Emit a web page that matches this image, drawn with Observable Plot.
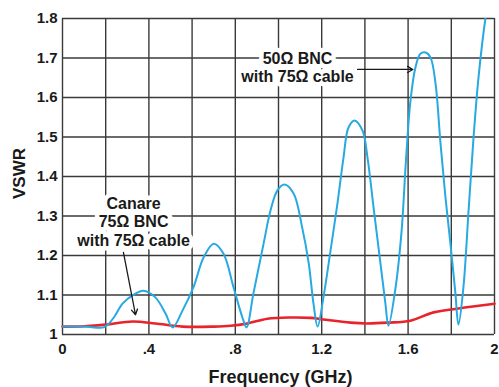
<!DOCTYPE html>
<html>
<head>
<meta charset="utf-8">
<script src="https://cdn.jsdelivr.net/npm/d3@7"></script>
<script src="https://cdn.jsdelivr.net/npm/@observablehq/plot@0.6"></script>
<style>
  html, body { margin: 0; padding: 0; background: #fff; }
</style>
</head>
<body>
<div id="chart"></div>
<script>
// ---- data ----
const bncFreq = [0, 0.1, 0.19, 0.21, 0.24, 0.278, 0.324, 0.375, 0.43, 0.477, 0.51, 0.556, 0.606, 0.653, 0.70, 0.745, 0.792, 0.833, 0.852, 0.884, 0.931, 0.963, 0.995, 1.028, 1.07, 1.11, 1.14, 1.162, 1.181, 1.208, 1.241, 1.273, 1.301, 1.324, 1.352, 1.389, 1.412, 1.44, 1.472, 1.495, 1.509, 1.542, 1.57, 1.59, 1.611, 1.634, 1.657, 1.681, 1.704, 1.727, 1.75, 1.773, 1.796, 1.819, 1.833, 1.856, 1.88, 1.903, 1.926, 1.958, 1.98];
const bncVswr = [1.02, 1.02, 1.018, 1.025, 1.045, 1.078, 1.099, 1.111, 1.094, 1.053, 1.018, 1.061, 1.119, 1.195, 1.23, 1.205, 1.119, 1.043, 1.018, 1.104, 1.23, 1.314, 1.365, 1.38, 1.357, 1.27, 1.18, 1.078, 1.02, 1.094, 1.213, 1.332, 1.448, 1.524, 1.542, 1.516, 1.448, 1.322, 1.18, 1.078, 1.022, 1.119, 1.263, 1.44, 1.592, 1.676, 1.711, 1.714, 1.701, 1.635, 1.484, 1.347, 1.23, 1.104, 1.025, 1.119, 1.314, 1.499, 1.651, 1.8, 1.87];

const canareFreq = [0, 0.1, 0.2, 0.324, 0.43, 0.556, 0.7, 0.778, 0.856, 0.949, 1.056, 1.15, 1.208, 1.333, 1.41, 1.505, 1.611, 1.718, 1.833, 2.0];
const canareVswr = [1.02, 1.021, 1.025, 1.033, 1.028, 1.02, 1.02, 1.022, 1.028, 1.04, 1.043, 1.042, 1.038, 1.03, 1.028, 1.03, 1.035, 1.056, 1.066, 1.078];

const xTicks = [0, 0.4, 0.8, 1.2, 1.6, 2];
const xTickLabels = ["0", ".4", ".8", "1.2", "1.6", "2"];
const yTicks = [1, 1.1, 1.2, 1.3, 1.4, 1.5, 1.6, 1.7, 1.8];
const yTickLabels = ["1", "1.1", "1.2", "1.3", "1.4", "1.5", "1.6", "1.7", "1.8"];
const xGrid = [0, 0.2, 0.4, 0.6, 0.8, 1.0, 1.2, 1.4, 1.6, 1.8, 2.0];
const yGrid = [1, 1.1, 1.2, 1.3, 1.4, 1.5, 1.6, 1.7, 1.8];

const notes = [
  {f: 1.088, v: 1.638, text: "50Ω BNC\nwith 75Ω cable"},
  {f: 0.329, v: 1.225, text: "Canare\n75Ω BNC\nwith 75Ω cable"}
];
const arrows = [
  {f1: 1.366, v1: 1.671, f2: 1.622, v2: 1.671, dash: null},
  {f1: 0.282, v1: 1.208, f2: 0.338, v2: 1.05, dash: "3,1.5"}
];

// ---- tables ----
const bnc = bncFreq.map((f, i) => ({f, v: bncVswr[i]}));
const canare = canareFreq.map((f, i) => ({f, v: canareVswr[i]}));

const FONT = "'Liberation Sans', Arial, Helvetica, sans-serif";
const INK = "#1a1a1a";
const GRID = "#3a3a3a";

const chart = Plot.plot({
  width: 499,
  height: 387,
  marginLeft: 62,
  marginRight: 5,
  marginTop: 18,
  marginBottom: 53,
  style: {fontFamily: FONT, fontSize: "15px", fontWeight: "bold", color: INK, background: "#fff"},
  x: {domain: [0, 2]},
  y: {domain: [1, 1.8]},
  marks: [
    Plot.ruleX(xGrid, {x: d => d, stroke: GRID, strokeWidth: 1.4}),
    Plot.ruleY(yGrid, {y: d => d, stroke: GRID, strokeWidth: 1.4}),
    Plot.axisX({ticks: xTicks, tickFormat: d => xTickLabels[xTicks.indexOf(d)], tickSize: 0, tickPadding: 9, label: null, fill: INK}),
    Plot.axisY({ticks: yTicks, tickFormat: d => yTickLabels[yTicks.indexOf(d)], tickSize: 0, tickPadding: 5, label: null, fill: INK}),
    Plot.text(notes, {x: "f", y: "v", text: "text", lineAnchor: "bottom", textAnchor: "middle",
      lineHeight: 1.15, fontSize: 16, fontWeight: "bold", fill: INK, stroke: "#fff", strokeWidth: 9, strokeLinejoin: "round"}),
    Plot.line(canare, {x: "f", y: "v", stroke: "#e8232b", strokeWidth: 2.6, curve: "catmull-rom"}),
    Plot.line(bnc, {x: "f", y: "v", stroke: "#27a9e1", strokeWidth: 2, curve: "catmull-rom", clip: true}),
    Plot.arrow(arrows, {x1: "f1", y1: "v1", x2: "f2", y2: "v2", stroke: INK, strokeWidth: 1.3, headLength: 7, strokeDasharray: d => d.dash}),
    Plot.text(["VSWR"], {frameAnchor: "left", dx: -43, dy: -3, rotate: -90, textAnchor: "middle", lineAnchor: "middle", fontSize: 17, fontWeight: "bold", fill: INK}),
    Plot.text(["Frequency (GHz)"], {frameAnchor: "bottom", dx: 2, dy: 43, textAnchor: "middle", lineAnchor: "middle", fontSize: 18, fontWeight: "bold", fill: INK})
  ]
});
document.getElementById("chart").appendChild(chart);
</script>
</body>
</html>
